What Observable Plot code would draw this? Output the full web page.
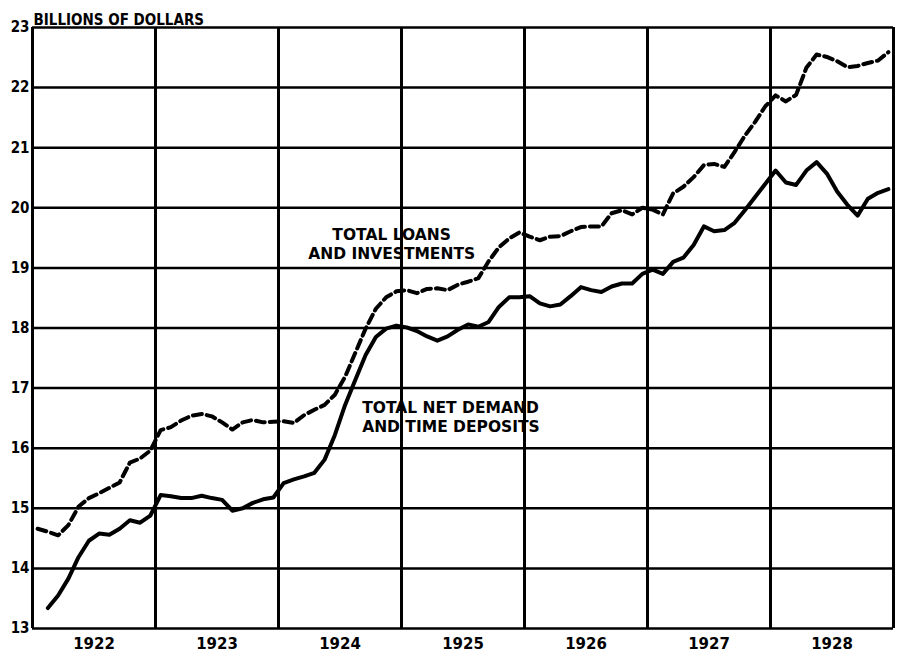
<!DOCTYPE html>
<html>
<head>
<meta charset="utf-8">
<script src="https://cdn.jsdelivr.net/npm/d3@7"></script>
<script src="https://cdn.jsdelivr.net/npm/@observablehq/plot@0.6"></script>
<style>
  html, body { margin: 0; padding: 0; background: #fff; }
  #chart svg { display: block; }
</style>
</head>
<body>
<div id="chart"></div>
<script>
// ---- Data (billions of dollars, monthly, Jan 1922 – Dec 1928) ----
const years = [1922, 1923, 1924, 1925, 1926, 1927, 1928];
const yearLabels = ["1922", "1923", "1924", "1925", "1926", "1927", "1928"];
const yTicks = [13, 14, 15, 16, 17, 18, 19, 20, 21, 22, 23];
const unitLabel = "BILLIONS OF DOLLARS";

// Total loans and investments (dashed)
const loans = [
  14.66, 14.61, 14.55, 14.72, 15.03, 15.17, 15.25, 15.34, 15.43, 15.76, 15.83, 15.96,
  16.30, 16.35, 16.46, 16.54, 16.57, 16.53, 16.43, 16.31, 16.43, 16.47, 16.43, 16.44,
  16.45, 16.42, 16.55, 16.64, 16.72, 16.89, 17.19, 17.59, 17.99, 18.32, 18.51, 18.61,
  18.63, 18.58, 18.65, 18.66, 18.63, 18.72, 18.77, 18.83, 19.11, 19.34, 19.49, 19.59,
  19.52, 19.46, 19.52, 19.53, 19.61, 19.68, 19.69, 19.69, 19.91, 19.96, 19.89, 20.00,
  19.97, 19.89, 20.24, 20.35, 20.51, 20.71, 20.73, 20.68, 20.93, 21.20, 21.43, 21.69,
  21.87, 21.77, 21.88, 22.33, 22.55, 22.51, 22.44, 22.34, 22.36, 22.41, 22.45, 22.59
];

// Total net demand and time deposits (solid)
const deposits = [
  null, 13.34, 13.55, 13.83, 14.19, 14.46, 14.58, 14.56, 14.66, 14.80, 14.76, 14.88,
  15.22, 15.20, 15.17, 15.17, 15.21, 15.17, 15.14, 14.96, 15.00, 15.09, 15.15, 15.18,
  15.42, 15.48, 15.53, 15.59, 15.81, 16.22, 16.72, 17.14, 17.55, 17.85, 17.99, 18.04,
  18.01, 17.95, 17.86, 17.79, 17.86, 17.97, 18.06, 18.02, 18.10, 18.35, 18.51, 18.51,
  18.53, 18.41, 18.36, 18.39, 18.53, 18.68, 18.63, 18.60, 18.69, 18.74, 18.74, 18.90,
  18.97, 18.90, 19.10, 19.17, 19.38, 19.69, 19.61, 19.63, 19.75, 19.96, 20.18, 20.40,
  20.62, 20.42, 20.38, 20.62, 20.76, 20.57, 20.27, 20.05, 19.87, 20.15, 20.25, 20.31
];

const loansLabel = [{ text: "TOTAL LOANS\nAND INVESTMENTS", x: 1924.92, y: 19.41 }];
const depositsLabel = [{ text: "TOTAL NET DEMAND\nAND TIME DEPOSITS", x: 1924.68, y: 16.53 }];

// ---- Build table ----
const rows = [];
years.forEach((yr, i) => {
  for (let m = 0; m < 12; m++) {
    const k = i * 12 + m;
    rows.push({ t: yr + (m + 0.5) / 12, loans: loans[k], deposits: deposits[k] });
  }
});
const yearBounds = years.concat([years[years.length - 1] + 1]);
const yearMids = years.map(y => y + 0.5);

const condensed = "'DejaVu Sans Condensed', 'DejaVu Sans', sans-serif";
const wide = "'DejaVu Sans', sans-serif";

const chart = Plot.plot({
  width: 897,
  height: 657,
  marginLeft: 32,
  marginRight: 4,
  marginTop: 27,
  marginBottom: 29,
  x: { domain: [1922, 1929], axis: null },
  y: { domain: [13, 23], axis: null },
  style: { background: "#fff", color: "#000", fontFamily: condensed },
  marks: [
    Plot.ruleY(yTicks, { stroke: "#000", strokeWidth: 2.5 }),
    Plot.ruleX(yearBounds, { stroke: "#000", strokeWidth: 3 }),
    Plot.line(rows, {
      x: "t", y: "deposits", stroke: "#000", strokeWidth: 4,
      strokeLinejoin: "round", strokeLinecap: "round"
    }),
    Plot.line(rows, {
      x: "t", y: "loans", stroke: "#000", strokeWidth: 4,
      strokeDasharray: "9,5", strokeLinejoin: "round"
    }),
    Plot.axisY(yTicks, {
      tickSize: 0, tickPadding: 3, fontSize: 15, fontWeight: "bold",
      fontFamily: condensed, label: null, tickFormat: d => String(d)
    }),
    Plot.axisX(yearMids, {
      tickSize: 0, tickPadding: 10, fontSize: 15, fontWeight: "bold",
      fontFamily: wide, label: null,
      tickFormat: d => yearLabels[years.indexOf(Math.floor(d))]
    }),
    Plot.text([unitLabel], {
      frameAnchor: "top-left", text: d => d, textAnchor: "start",
      lineAnchor: "bottom", dx: 1, dy: -3, fontSize: 15, fontWeight: "bold",
      fontFamily: condensed
    }),
    Plot.text(loansLabel, {
      x: "x", y: "y", text: "text", textAnchor: "middle",
      fontSize: 15.5, fontWeight: "bold", lineHeight: 1.25, fontFamily: wide,
      fill: "#000"
    }),
    Plot.text(depositsLabel, {
      x: "x", y: "y", text: "text", textAnchor: "start",
      fontSize: 15.5, fontWeight: "bold", lineHeight: 1.25, fontFamily: wide,
      fill: "#000"
    })
  ]
});

document.getElementById("chart").appendChild(chart);
</script>
</body>
</html>
